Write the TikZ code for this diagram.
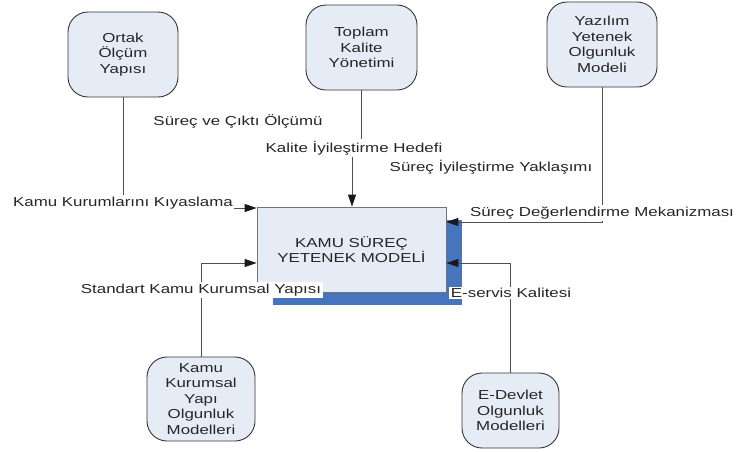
\documentclass[tikz,border=0pt]{standalone}
\usepackage{fontspec}
\setmainfont{Liberation Sans}[FakeStretch=1.3]
\usetikzlibrary{arrows.meta,shadows}

\definecolor{boxfill}{HTML}{E6ECF6}
\definecolor{shadowblue}{HTML}{4775BD}
\definecolor{linegray}{HTML}{505050}
\definecolor{textgray}{HTML}{262626}

\def\cornerradius{20pt}

\tikzset{
  modelbox/.style={draw=black!80, line width=0.9pt, fill=boxfill, rounded corners=\cornerradius, align=center, inner sep=0pt},
  mainbox/.style={draw=black!55, line width=0.8pt, fill=boxfill, align=center, minimum width=189pt, minimum height=85pt,
    drop shadow={shadow xshift=16pt, shadow yshift=-13pt, fill=shadowblue, opacity=1}},
  conn/.style={draw=linegray, line width=0.9pt, -{Triangle[length=12pt,width=8pt,color=black!90]}},
  lbl/.style={fill=white, inner sep=1.5pt},
}

\begin{document}
\begin{tikzpicture}[x=1pt, y=-1pt, every node/.style={font=\fontsize{13}{15.5}\selectfont, text=textgray}]
  \useasboundingbox (0,0) rectangle (738,451);

  \node [mainbox] (ksp) at (351.5,249.5) {KAMU SÜREÇ\\YETENEK MODELİ};

  \node [modelbox, minimum width=110pt, minimum height=85pt] (ortak) at (123,54.5) {Ortak\\Ölçüm\\Yapısı};
  \node [modelbox, minimum width=111pt, minimum height=85pt] (toplam) at (361.5,47.5) {Toplam\\Kalite\\Yönetimi};
  \node [modelbox, minimum width=110pt, minimum height=85pt] (yazilim) at (602,44.5) {Yazılım\\Yetenek\\Olgunluk\\Modeli};
  \node [modelbox, minimum width=108pt, minimum height=84pt] (kurumsal) at (201,399) {Kamu\\Kurumsal\\Yapı\\Olgunluk\\Modelleri};
  \node [modelbox, minimum width=97pt, minimum height=75pt] (edevlet) at (510.5,410.5) {E-Devlet\\Olgunluk\\Modelleri};

  \coordinate (kyas) at (123,208);
  \draw [conn] (ortak.south) -- (kyas) -- (kyas -| ksp.west);
  \node [lbl, yshift=5pt] (kyaslbl) at (kyas) {Kamu Kurumlarını Kıyaslama};

  \coordinate (hedefA) at (361.5,148);
  \coordinate (hedefB) at (352,148);
  \draw [conn] (toplam.south) -- (hedefA) -- (hedefB) -- (hedefB |- ksp.north);
  \node [lbl] (hedeflbl) at (354,148) {Kalite İyileştirme Hedefi};

  \coordinate (mekan) at (602,222);
  \draw [conn] (yazilim.south) -- (mekan) -- (mekan -| ksp.east);
  \node [lbl, yshift=9pt] (mekanlbl) at (mekan) {Süreç Değerlendirme Mekanizması};

  \coordinate (stdyapi) at (201,263);
  \draw [conn] (kurumsal.north) -- (stdyapi) -- (stdyapi -| ksp.west);
  \node [lbl] (stdlbl) at (201,290) {Standart Kamu Kurumsal Yapısı};

  \coordinate (eservis) at (510.5,263);
  \draw [conn] (edevlet.north) -- (eservis) -- (eservis -| ksp.east);
  \node [lbl] (eservislbl) at (511,293) {E-servis Kalitesi};

  \node [lbl] (olcumlbl) at (238,121) {Süreç ve Çıktı Ölçümü};
  \node [lbl] (yaklasimlbl) at (491,167) {Süreç İyileştirme Yaklaşımı};
\end{tikzpicture}
\end{document}
